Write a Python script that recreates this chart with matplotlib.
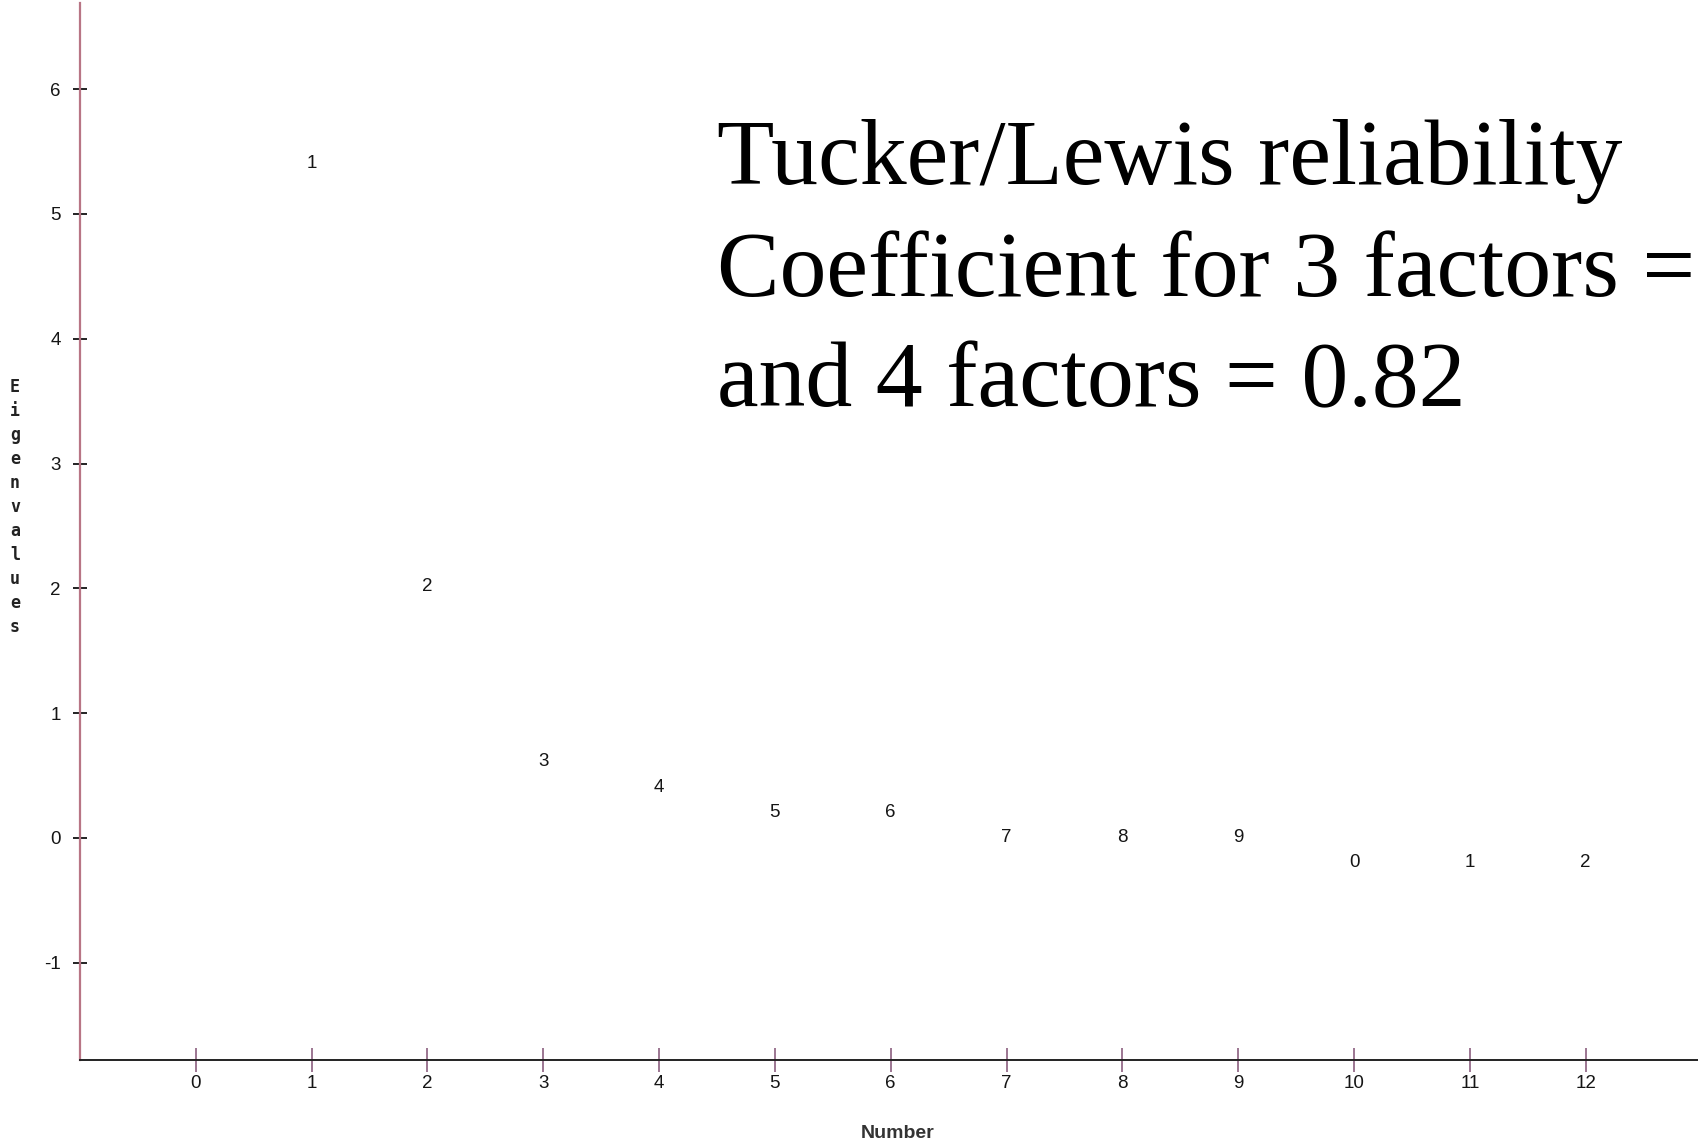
import matplotlib
matplotlib.use("Agg")
import matplotlib.pyplot as plt

# ---- data ----
numbers = [1, 2, 3, 4, 5, 6, 7, 8, 9, 10, 11, 12]
eigenvalues = [5.42, 2.03, 0.63, 0.42, 0.22, 0.22, 0.02, 0.02, 0.02, -0.18, -0.18, -0.18]
point_labels = [str(n % 10) for n in numbers]
x_ticks = list(range(0, 13))
y_ticks = [-1, 0, 1, 2, 3, 4, 5, 6]
annotation_lines = ["Tucker/Lewis reliability",
                    "Coefficient for 3 factors =",
                    "and 4 factors = 0.82"]
y_label = "Eigenvalues"
x_label = "Number"

W, H = 1698, 1144
fig = plt.figure(figsize=(W / 100, H / 100), dpi=100)
ax = fig.add_axes([80 / W, (H - 1060) / H, 1 - 80 / W, (1060 - 3) / H])

ax.set_xlim(-1.0, 12.97)
ax.set_ylim(-1.779, 6.69)

tick_font = dict(family="Liberation Sans", size=13.5, color="#151515")

for x, y, lab in zip(numbers, eigenvalues, point_labels):
    ax.text(x, y, lab, ha="center", va="center_baseline", **tick_font)

for s in ["top", "right"]:
    ax.spines[s].set_visible(False)
ax.spines["left"].set_color("#b87585")
ax.spines["left"].set_linewidth(1.6)
ax.spines["bottom"].set_color("#222222")
ax.spines["bottom"].set_linewidth(1.4)

ax.set_xticks(x_ticks)
ax.set_xticklabels([str(t) for t in x_ticks], fontfamily="Liberation Sans", fontsize=13.5, color="#151515")
ax.set_yticks(y_ticks)
ax.set_yticklabels([str(t) for t in y_ticks], fontfamily="Liberation Sans", fontsize=13.5, color="#151515")
ax.tick_params(axis="x", direction="inout", length=17, width=1.2, color="#8b5f7f", pad=2)
ax.tick_params(axis="y", direction="inout", length=9.5, width=1.4, color="#222222", pad=9)

# stacked y label
for i, ch in enumerate(y_label):
    fig.text(15 / W, 1 - (387 + i * 24) / H, ch, ha="center", va="center",
             family="DejaVu Sans Mono", weight="bold", fontsize=12, color="#222222")

fig.text(898 / W, 1 - 1133 / H, x_label, ha="center", va="center",
         family="Liberation Sans", weight="bold", fontsize=14, color="#333333")

baselines = [184, 296, 406]
for line, b in zip(annotation_lines, baselines):
    fig.text(717 / W, 1 - b / H, line, ha="left", va="baseline",
             family="Liberation Serif", fontsize=67.5, color="black")

fig.savefig("out.png", dpi=100)
